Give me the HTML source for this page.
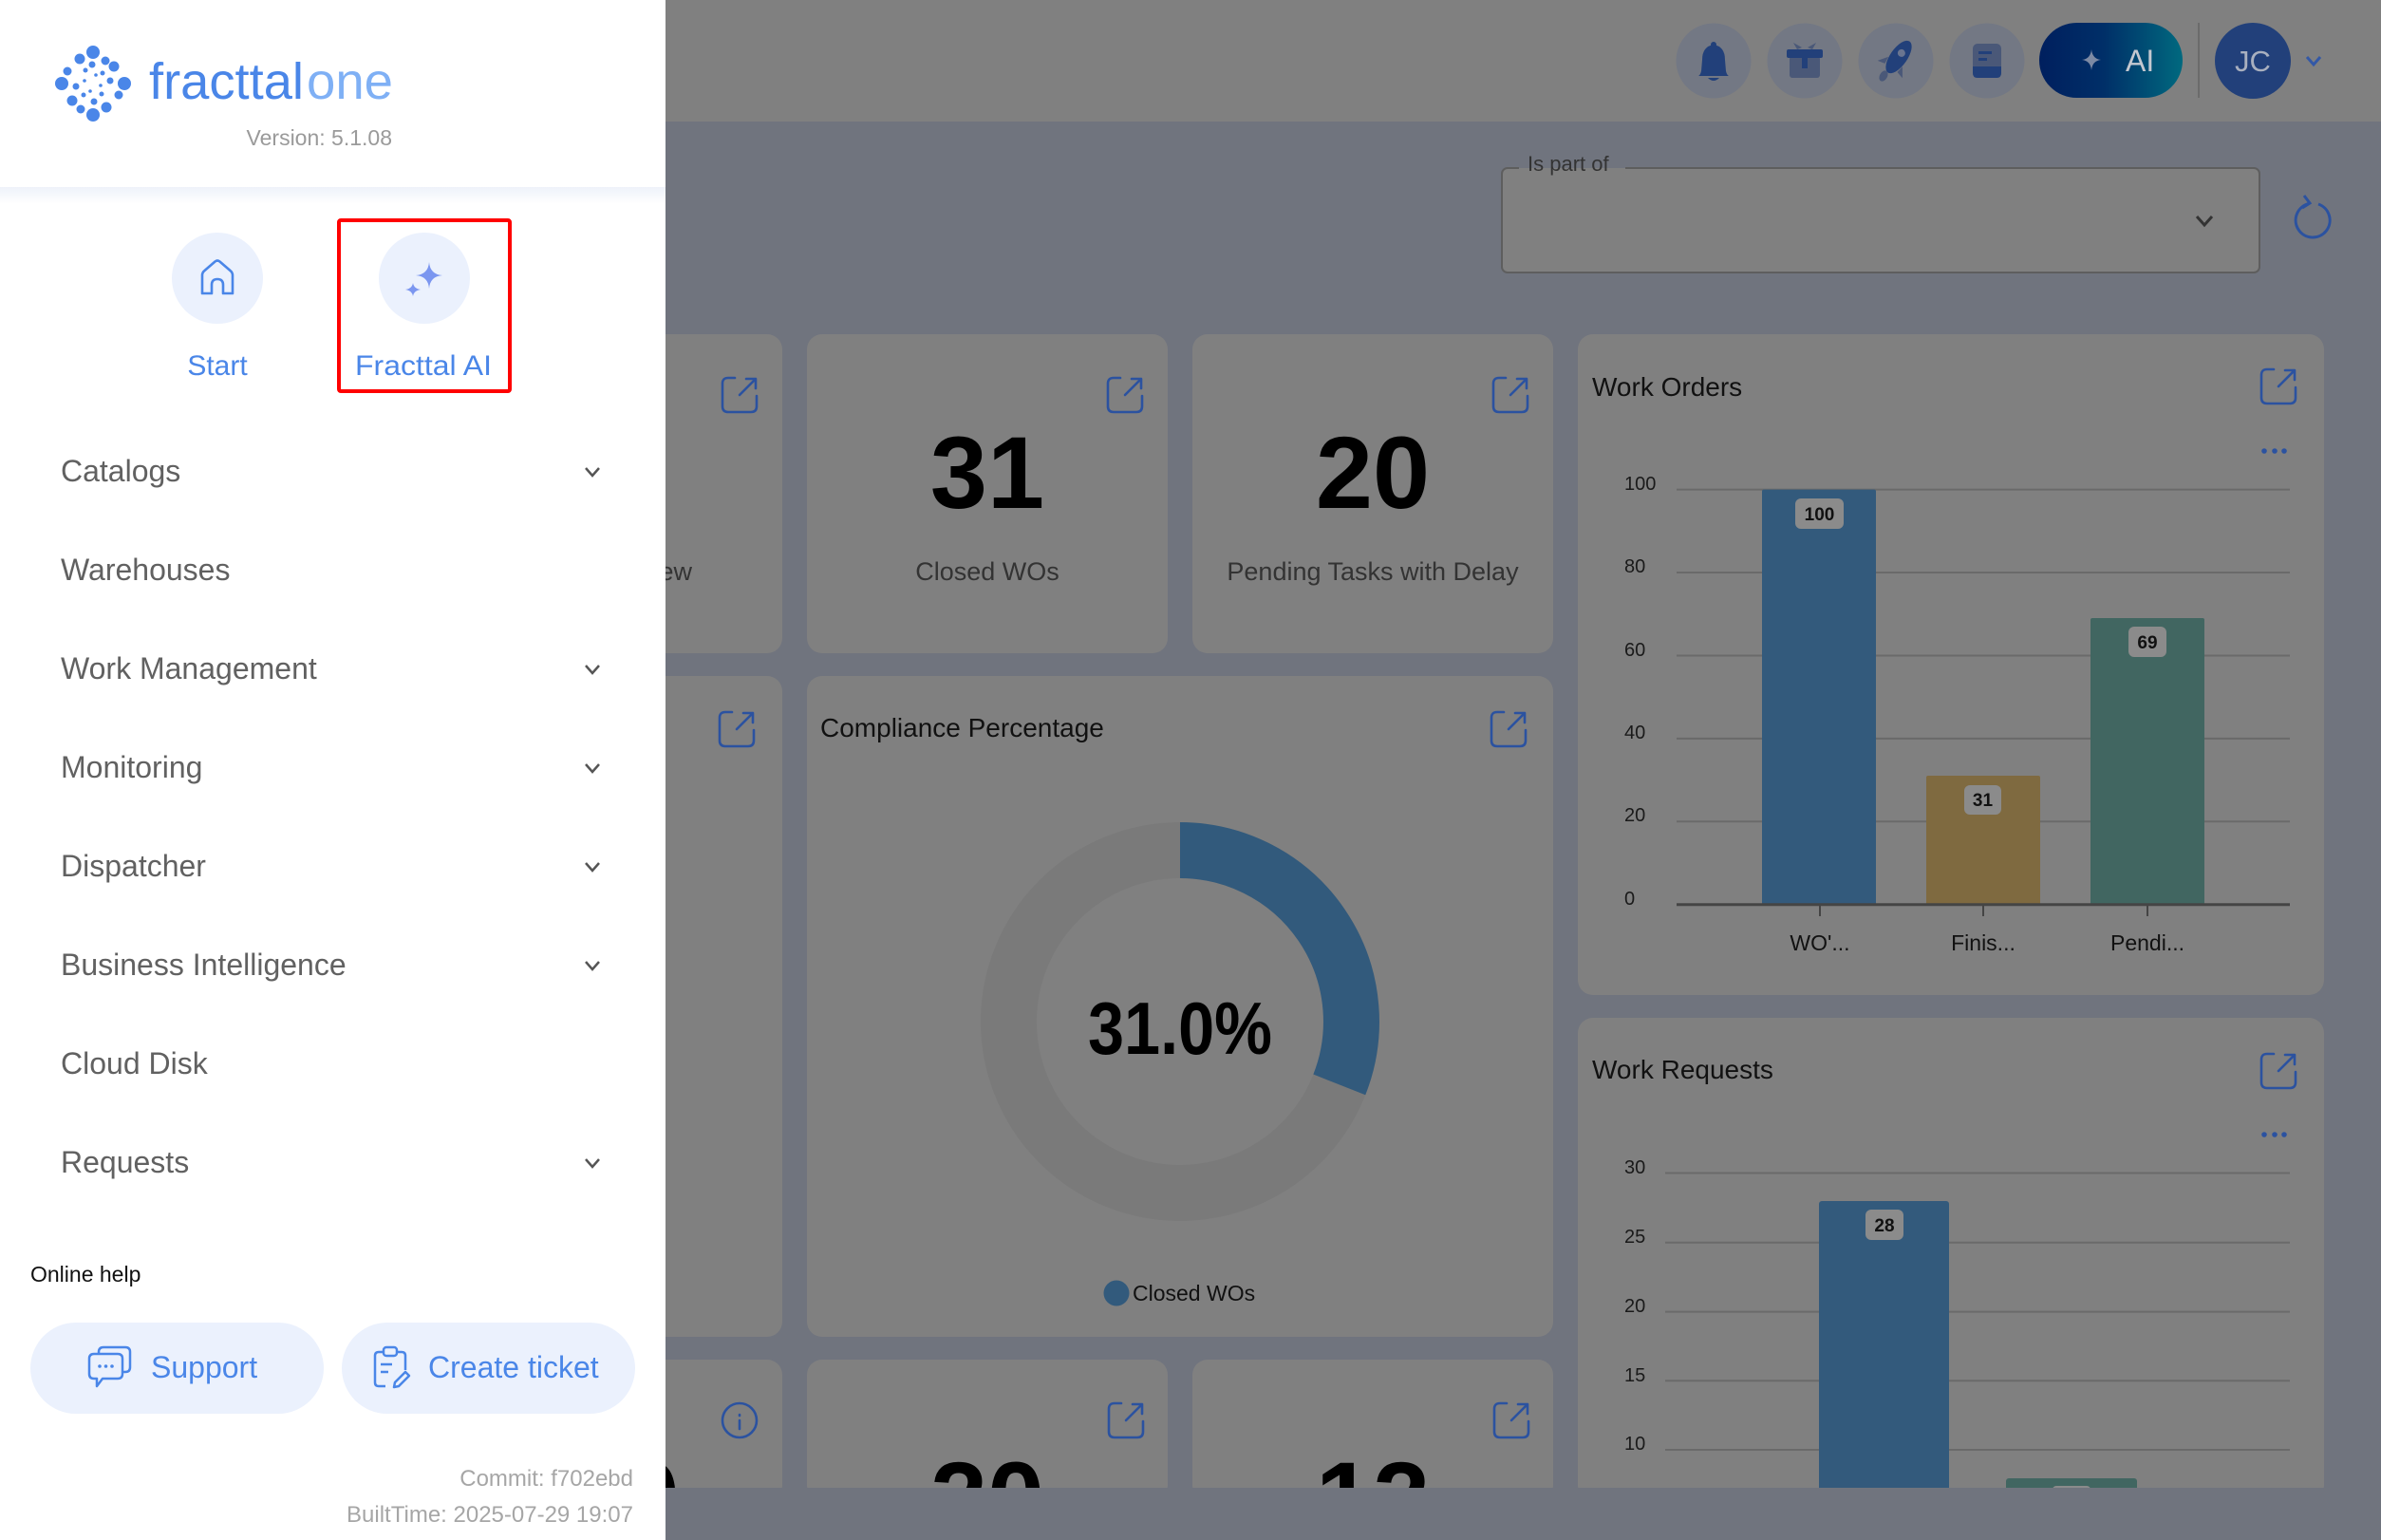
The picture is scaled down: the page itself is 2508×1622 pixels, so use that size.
<!DOCTYPE html>
<html><head><meta charset="utf-8"><style>
html,body{margin:0;padding:0;width:2508px;height:1622px;overflow:hidden;background:#70747e;}
svg{display:block;font-family:"Liberation Sans",sans-serif;}
</style></head><body>
<svg width="2508" height="1622" viewBox="0 0 2508 1622" xmlns="http://www.w3.org/2000/svg">
<defs>
<clipPath id="mainclip"><rect x="701" y="128" width="1807" height="1439"/></clipPath>
<linearGradient id="aig" x1="0" y1="0" x2="1" y2="0"><stop offset="0" stop-color="#001f5e"/><stop offset="0.45" stop-color="#002f68"/><stop offset="1" stop-color="#00697f"/></linearGradient>
<linearGradient id="shd" x1="0" y1="0" x2="0" y2="1"><stop offset="0" stop-color="#eef2fa"/><stop offset="1" stop-color="#ffffff"/></linearGradient>
</defs>

<!-- background -->
<rect x="0" y="0" width="2508" height="1622" fill="#70747e"/>
<!-- header -->
<rect x="701" y="0" width="1807" height="128" fill="#808080"/>

<!-- header icons -->
<circle cx="1805" cy="64" r="39.5" fill="#737884"/>
<circle cx="1901" cy="64" r="39.5" fill="#737884"/>
<circle cx="1997" cy="64" r="39.5" fill="#737884"/>
<circle cx="2093" cy="64" r="39.5" fill="#737884"/>
<!-- bell -->
<path d="M1805 47 Q1793 49 1793 63 L1792 75 Q1791 79 1789 80 L1821 80 Q1819 79 1818 75 L1817 63 Q1817 49 1805 47 Z" fill="#22407a"/>
<circle cx="1805" cy="47" r="3" fill="#22407a"/>
<path d="M1799 82 Q1805 88 1811 82 Z" fill="#22407a"/>
<!-- gift -->
<rect x="1885" y="59" width="32" height="23" rx="3" fill="#4a5878"/>
<rect x="1882" y="52" width="38" height="9" rx="2" fill="#22407a"/>
<rect x="1898" y="52" width="6" height="20" fill="#22407a"/>
<path d="M1893 52 L1889 45 L1898 50 Z M1909 52 L1913 45 L1904 50 Z" fill="#4a5878"/>
<!-- rocket -->
<g transform="translate(2000,60) rotate(35)">
<ellipse cx="0" cy="0" rx="9" ry="20" fill="#22407a"/>
<circle cx="0" cy="-5" r="4" fill="#6a7590"/>
<path d="M-9 6 L-16 16 L-8 14 Z M9 6 L16 16 L8 14 Z" fill="#4a5878"/>
</g>
<ellipse cx="1984" cy="80" rx="4" ry="6" fill="#4a5878" transform="rotate(30 1984 80)"/>
<!-- doc -->
<rect x="2078" y="46" width="30" height="36" rx="5" fill="#4a5878"/>
<path d="M2078 70 H2108 V77 Q2108 82 2103 82 H2083 Q2078 82 2078 77 Z" fill="#22407a"/>
<rect x="2084" y="54" width="14" height="3" fill="#22407a"/>
<rect x="2084" y="61" width="9" height="3" fill="#22407a"/>
<!-- AI pill -->
<rect x="2148" y="24" width="151" height="79" rx="39.5" fill="url(#aig)"/>
<path d="M2203 52 Q2204 62 2213 63 Q2204 64 2203 74 Q2202 64 2193 63 Q2202 62 2203 52 Z" fill="#7d8aa4"/>
<text x="2239" y="75" font-size="32" fill="#c4c8d0">AI</text>
<line x1="2316" y1="24" x2="2316" y2="103" stroke="#6b6b6b" stroke-width="2"/>
<circle cx="2373" cy="64" r="40" fill="#22407a"/>
<text x="2373" y="75" font-size="31" fill="#a9b0bf" text-anchor="middle">JC</text>
<path d="M2430 60 L2437 68 L2444 60" fill="none" stroke="#3358a6" stroke-width="3"/>

<!-- filter -->
<rect x="1582" y="177" width="798" height="110" rx="6" fill="#808080" stroke="#5e5e5e" stroke-width="2"/>
<rect x="1600" y="174" width="112" height="3" fill="#70747e"/>
<rect x="1600" y="177" width="112" height="3" fill="#808080"/>
<text x="1609" y="180" font-size="22" fill="#333">Is part of</text>
<path d="M2314 228 L2322 237 L2330 228" fill="none" stroke="#333" stroke-width="3"/>
<path d="M2432 214.5 A18 18 0 1 0 2442 215" fill="none" stroke="#2b52a0" stroke-width="3"/>
<path d="M2427 206 L2433 214 L2425 219" fill="none" stroke="#2b52a0" stroke-width="3"/>

<g clip-path="url(#mainclip)">
<!-- Row 1 cards -->
<rect x="600" y="352" width="224" height="336" rx="16" fill="#808080"/>
<rect x="850" y="352" width="380" height="336" rx="16" fill="#808080"/>
<rect x="1256" y="352" width="380" height="336" rx="16" fill="#808080"/>
<!-- Work orders card -->
<rect x="1662" y="352" width="786" height="696" rx="16" fill="#808080"/>
<!-- Row 2 -->
<rect x="600" y="712" width="224" height="696" rx="16" fill="#808080"/>
<rect x="850" y="712" width="786" height="696" rx="16" fill="#808080"/>
<!-- Work Requests -->
<rect x="1662" y="1072" width="786" height="508" rx="16" fill="#808080"/>
<!-- Row 3 -->
<rect x="600" y="1432" width="224" height="148" rx="16" fill="#808080"/>
<rect x="850" y="1432" width="380" height="148" rx="16" fill="#808080"/>
<rect x="1256" y="1432" width="380" height="148" rx="16" fill="#808080"/>

<!-- export icons -->
<g fill="none" stroke="#2b52a0" stroke-width="2.6" stroke-linecap="round" stroke-linejoin="round">
<g transform="translate(759,396)"><path d="M15 2 H8 Q2 2 2 8 V32 Q2 38 8 38 H32 Q38 38 38 32 V21"/><path d="M20 20 L37 3 M27 3 H37 V13"/></g>
<g transform="translate(1165,396)"><path d="M15 2 H8 Q2 2 2 8 V32 Q2 38 8 38 H32 Q38 38 38 32 V21"/><path d="M20 20 L37 3 M27 3 H37 V13"/></g>
<g transform="translate(1571,396)"><path d="M15 2 H8 Q2 2 2 8 V32 Q2 38 8 38 H32 Q38 38 38 32 V21"/><path d="M20 20 L37 3 M27 3 H37 V13"/></g>
<g transform="translate(2380,387)"><path d="M15 2 H8 Q2 2 2 8 V32 Q2 38 8 38 H32 Q38 38 38 32 V21"/><path d="M20 20 L37 3 M27 3 H37 V13"/></g>
<g transform="translate(756,748)"><path d="M15 2 H8 Q2 2 2 8 V32 Q2 38 8 38 H32 Q38 38 38 32 V21"/><path d="M20 20 L37 3 M27 3 H37 V13"/></g>
<g transform="translate(1569,748)"><path d="M15 2 H8 Q2 2 2 8 V32 Q2 38 8 38 H32 Q38 38 38 32 V21"/><path d="M20 20 L37 3 M27 3 H37 V13"/></g>
<g transform="translate(2380,1108)"><path d="M15 2 H8 Q2 2 2 8 V32 Q2 38 8 38 H32 Q38 38 38 32 V21"/><path d="M20 20 L37 3 M27 3 H37 V13"/></g>
<g transform="translate(1166,1476)"><path d="M15 2 H8 Q2 2 2 8 V32 Q2 38 8 38 H32 Q38 38 38 32 V21"/><path d="M20 20 L37 3 M27 3 H37 V13"/></g>
<g transform="translate(1572,1476)"><path d="M15 2 H8 Q2 2 2 8 V32 Q2 38 8 38 H32 Q38 38 38 32 V21"/><path d="M20 20 L37 3 M27 3 H37 V13"/></g>
<circle cx="779" cy="1496" r="18"/>
<path d="M779 1490 V1491 M779 1496 V1505"/>
</g>

<!-- row 1 texts -->
<text x="729" y="611" font-size="27" fill="#333" text-anchor="end">Overview</text>
<text x="1040" y="535" font-size="108" font-weight="bold" fill="#000" text-anchor="middle">31</text>
<text x="1040" y="611" font-size="27" fill="#333" text-anchor="middle">Closed WOs</text>
<text x="1446" y="535" font-size="108" font-weight="bold" fill="#000" text-anchor="middle">20</text>
<text x="1446" y="611" font-size="27" fill="#333" text-anchor="middle">Pending Tasks with Delay</text>

<!-- Compliance -->
<text x="864" y="776" font-size="28" fill="#111">Compliance Percentage</text>
<circle cx="1243" cy="1076" r="180.5" fill="none" stroke="#7a7a7a" stroke-width="59"/>
<path d="M1243 895.5 A180.5 180.5 0 0 1 1410.8 1142.4" fill="none" stroke="#325a7c" stroke-width="59"/>
<text x="1243" y="1110" font-size="78" font-weight="bold" fill="#000" text-anchor="middle" textLength="194" lengthAdjust="spacingAndGlyphs">31.0%</text>
<circle cx="1176" cy="1362" r="13.5" fill="#325a7c"/>
<text x="1193" y="1370" font-size="23" fill="#111">Closed WOs</text>

<!-- Work Orders chart -->
<text x="1677" y="417" font-size="28" fill="#111">Work Orders</text>
<circle cx="2385" cy="475" r="2.8" fill="#2b52a0"/><circle cx="2396" cy="475" r="2.8" fill="#2b52a0"/><circle cx="2406" cy="475" r="2.8" fill="#2b52a0"/>
<g stroke="#6a6a6a" stroke-width="2">
<line x1="1766" y1="515.6" x2="2412" y2="515.6"/>
<line x1="1766" y1="603" x2="2412" y2="603"/>
<line x1="1766" y1="690.5" x2="2412" y2="690.5"/>
<line x1="1766" y1="777.9" x2="2412" y2="777.9"/>
<line x1="1766" y1="865.3" x2="2412" y2="865.3"/>
</g>
<g font-size="20" fill="#1a1a1a">
<text x="1711" y="516">100</text>
<text x="1711" y="603">80</text>
<text x="1711" y="691">60</text>
<text x="1711" y="778">40</text>
<text x="1711" y="865">20</text>
<text x="1711" y="953">0</text>
</g>
<rect x="1856" y="515.6" width="120" height="437.1" rx="2" fill="#335a7c"/>
<rect x="2029" y="817" width="120" height="135.7" rx="2" fill="#7f6a40"/>
<rect x="2202" y="651" width="120" height="301.7" rx="2" fill="#416661"/>
<line x1="1766" y1="952.7" x2="2412" y2="952.7" stroke="#454545" stroke-width="3"/>
<g stroke="#454545" stroke-width="2"><line x1="1917" y1="953" x2="1917" y2="965"/><line x1="2089" y1="953" x2="2089" y2="965"/><line x1="2262" y1="953" x2="2262" y2="965"/></g>
<rect x="1891" y="525" width="51" height="32" rx="6" fill="#8b8b8b"/>
<text x="1916.5" y="548" font-size="19" font-weight="bold" fill="#111" text-anchor="middle">100</text>
<rect x="2069" y="827" width="39" height="31" rx="6" fill="#8b8b8b"/>
<text x="2088.5" y="849" font-size="19" font-weight="bold" fill="#111" text-anchor="middle">31</text>
<rect x="2242" y="660" width="40" height="32" rx="6" fill="#8b8b8b"/>
<text x="2262" y="683" font-size="19" font-weight="bold" fill="#111" text-anchor="middle">69</text>
<g font-size="23" fill="#111" text-anchor="middle">
<text x="1917" y="1001">WO'...</text>
<text x="2089" y="1001">Finis...</text>
<text x="2262" y="1001">Pendi...</text>
</g>

<!-- Work Requests -->
<text x="1677" y="1136" font-size="28" fill="#111">Work Requests</text>
<circle cx="2385" cy="1195" r="2.8" fill="#2b52a0"/><circle cx="2396" cy="1195" r="2.8" fill="#2b52a0"/><circle cx="2406" cy="1195" r="2.8" fill="#2b52a0"/>
<g stroke="#6a6a6a" stroke-width="2">
<line x1="1754" y1="1235.5" x2="2412" y2="1235.5"/>
<line x1="1754" y1="1308.7" x2="2412" y2="1308.7"/>
<line x1="1754" y1="1381.6" x2="2412" y2="1381.6"/>
<line x1="1754" y1="1454.3" x2="2412" y2="1454.3"/>
<line x1="1754" y1="1527" x2="2412" y2="1527"/>
</g>
<g font-size="20" fill="#1a1a1a">
<text x="1711" y="1236">30</text>
<text x="1711" y="1309">25</text>
<text x="1711" y="1382">20</text>
<text x="1711" y="1455">15</text>
<text x="1711" y="1527">10</text>
</g>
<rect x="1916" y="1265" width="137" height="315" rx="3" fill="#335a7c"/>
<rect x="2113" y="1557" width="138" height="23" rx="3" fill="#416661"/>
<rect x="1965" y="1274" width="40" height="32" rx="6" fill="#8b8b8b"/>
<text x="1985" y="1297" font-size="19" font-weight="bold" fill="#111" text-anchor="middle">28</text>
<rect x="2162" y="1565" width="40" height="15" rx="4" fill="#8b8b8b"/>

<!-- Row 3 numbers -->
<text x="716" y="1615" font-size="108" font-weight="bold" fill="#000" text-anchor="end">0</text>
<text x="1040" y="1615" font-size="108" font-weight="bold" fill="#000" text-anchor="middle">20</text>
<text x="1446" y="1615" font-size="108" font-weight="bold" fill="#000" text-anchor="middle">12</text>
</g>

<!-- Sidebar -->
<rect x="0" y="0" width="701" height="1622" fill="#ffffff"/>
<rect x="0" y="197" width="701" height="18" fill="url(#shd)"/>
<!-- logo dots -->
<g fill="#4a86e8">
<circle cx="98" cy="55" r="7"/><circle cx="131" cy="88" r="7"/><circle cx="98" cy="121" r="7"/><circle cx="65" cy="88" r="7"/>
<circle cx="84" cy="62" r="5.5"/><circle cx="120" cy="70" r="5.5"/><circle cx="112" cy="113" r="5.5"/><circle cx="76" cy="106" r="5.5"/>
<circle cx="111" cy="64" r="4.5"/><circle cx="125" cy="100" r="4.5"/><circle cx="85" cy="115" r="4.5"/><circle cx="71" cy="75" r="4.5"/>
<circle cx="97" cy="68" r="3.5"/><circle cx="116" cy="85" r="3.5"/><circle cx="99" cy="107" r="3.5"/><circle cx="80" cy="91" r="3.5"/>
<circle cx="90" cy="74" r="2.5"/><circle cx="108" cy="77" r="2.5"/><circle cx="107" cy="99" r="2.5"/><circle cx="88" cy="100" r="2.5"/>
<circle cx="101" cy="79" r="1.8"/><circle cx="106" cy="90" r="1.8"/><circle cx="95" cy="96" r="1.8"/><circle cx="89" cy="85" r="1.8"/>
</g>
<text x="157" y="104" font-size="54" fill="#4a86e8" textLength="163" lengthAdjust="spacingAndGlyphs">fracttal</text>
<text x="323" y="104" font-size="54" fill="#7fb0f5" textLength="91" lengthAdjust="spacingAndGlyphs">one</text>
<text x="413" y="153" font-size="23" fill="#9a9a9a" text-anchor="end">Version: 5.1.08</text>

<!-- Start / AI -->
<circle cx="229" cy="293" r="48" fill="#ebf1fd"/>
<path d="M213 309 V290 Q213 287 215.5 285 L226.5 275.5 Q229 273.5 231.5 275.5 L242.5 285 Q245 287 245 290 V309 H235 V300 Q235 294 229 294 Q223 294 223 300 V309 Z" fill="none" stroke="#4a86e8" stroke-width="2.6" stroke-linejoin="round"/>
<circle cx="447" cy="293" r="48" fill="#ebf1fd"/>
<path d="M452 276 Q453 289 466 290 Q453 291 452 304 Q451 291 438 290 Q451 289 452 276 Z" fill="#7b96f0"/>
<path d="M435 298 Q436 304 443 305 Q436 306 435 312 Q434 306 427 305 Q434 304 435 298 Z" fill="#7b96f0"/>
<text x="229" y="395" font-size="30" fill="#4a86e8" text-anchor="middle">Start</text>
<text x="446" y="395" font-size="30" fill="#4a86e8" text-anchor="middle" textLength="144" lengthAdjust="spacingAndGlyphs">Fracttal AI</text>
<rect x="357" y="232" width="180" height="180" rx="2" fill="none" stroke="#ff0000" stroke-width="4"/>

<!-- menu -->
<g font-size="32" fill="#616161">
<text x="64" y="507">Catalogs</text>
<text x="64" y="611">Warehouses</text>
<text x="64" y="715">Work Management</text>
<text x="64" y="819">Monitoring</text>
<text x="64" y="923">Dispatcher</text>
<text x="64" y="1027">Business Intelligence</text>
<text x="64" y="1131">Cloud Disk</text>
<text x="64" y="1235">Requests</text>
</g>
<g fill="none" stroke="#555" stroke-width="2.5">
<path d="M617 493 L624 501 L631 493"/>
<path d="M617 701 L624 709 L631 701"/>
<path d="M617 805 L624 813 L631 805"/>
<path d="M617 909 L624 917 L631 909"/>
<path d="M617 1013 L624 1021 L631 1013"/>
<path d="M617 1221 L624 1229 L631 1221"/>
</g>

<text x="32" y="1350" font-size="23" fill="#111">Online help</text>
<rect x="32" y="1393" width="309" height="96" rx="48" fill="#ebf1fd"/>
<rect x="360" y="1393" width="309" height="96" rx="48" fill="#ebf1fd"/>
<g fill="none" stroke="#4a86e8" stroke-width="2.5" stroke-linejoin="round">
<path d="M104 1426 V1424 Q104 1419 109 1419 H132 Q137 1419 137 1424 V1440 Q137 1445 132 1445 H129"/>
<path d="M99 1426 H124 Q129 1426 129 1431 V1447 Q129 1452 124 1452 H108 L102 1460 V1452 H99 Q94 1452 94 1447 V1431 Q94 1426 99 1426 Z"/>
<path d="M403 1424 H399 Q395 1424 395 1428 V1456 Q395 1460 399 1460 H406 M419 1424 H423 Q427 1424 427 1428 V1443"/>
<rect x="404" y="1419" width="14" height="9" rx="3"/>
<path d="M401 1437 H413 M401 1445 H409"/>
<path d="M427 1445 L416 1456 L415 1461 L420 1460 L431 1449 Z"/>
</g>
<g fill="#4a86e8"><circle cx="105" cy="1439" r="1.8"/><circle cx="111.5" cy="1439" r="1.8"/><circle cx="118" cy="1439" r="1.8"/></g>
<text x="159" y="1451" font-size="32" fill="#4a86e8">Support</text>
<text x="451" y="1451" font-size="32" fill="#4a86e8">Create ticket</text>
<text x="667" y="1565" font-size="24" fill="#a6a6a6" text-anchor="end">Commit: f702ebd</text>
<text x="667" y="1603" font-size="24" fill="#a6a6a6" text-anchor="end">BuiltTime: 2025-07-29 19:07</text>
</svg>
</body></html>
